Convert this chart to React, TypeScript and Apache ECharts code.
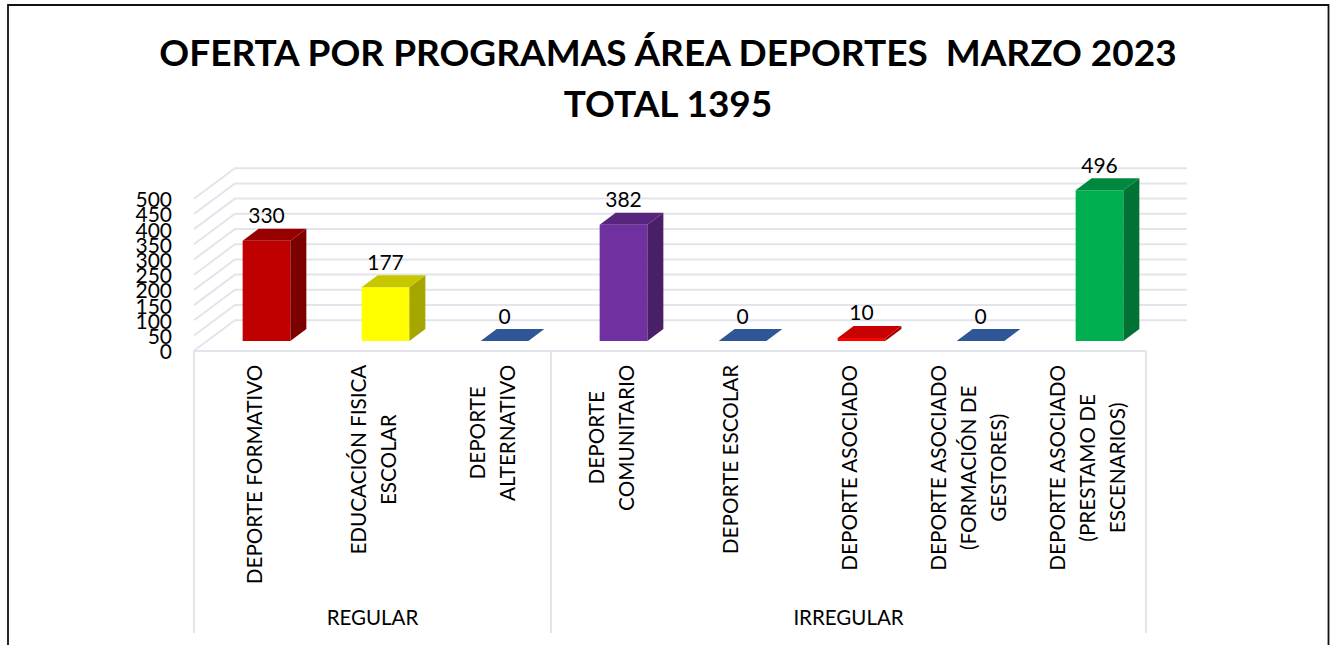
import React, { useEffect, useRef } from "react";
import * as echarts from "echarts";

const categories = [
  "DEPORTE FORMATIVO",
  "EDUCACIÓN FISICA\nESCOLAR",
  "DEPORTE\nALTERNATIVO",
  "DEPORTE\nCOMUNITARIO",
  "DEPORTE ESCOLAR",
  "DEPORTE ASOCIADO",
  "DEPORTE ASOCIADO\n(FORMACIÓN DE\nGESTORES)",
  "DEPORTE ASOCIADO\n(PRESTAMO DE\nESCENARIOS)",
];
const values = [330, 177, 0, 382, 0, 10, 0, 496];
const frontColors = ["#C00000", "#FFFF00", "#3C6EC2", "#7030A0", "#3C6EC2", "#FF0000", "#3C6EC2", "#00B050"];
const groupNames = ["REGULAR", "IRREGULAR"];
const groupStart = [0, 3];
const groupEnd = [2, 7];
const gridTicks = [0, 50, 100, 150, 200, 250, 300, 350, 400, 450, 500];
const titleText = "OFERTA POR PROGRAMAS ÁREA DEPORTES  MARZO 2023\nTOTAL 1395";

const FONT = "Lato, 'Open Sans', sans-serif";
const GRID_COLOR = "#E2E5EC";
const DEPTH = { x: 41, y: -30.5 };
const BAR_OFFSET = { x: 13, y: -9.7 };
const BAR_DEPTH = { x: 16, y: -12 };
const BAR_WIDTH = 47.7;

function shade(hex: string, f: number) {
  const c = echarts.color.parse(hex);
  return `rgb(${Math.round(c[0] * f)},${Math.round(c[1] * f)},${Math.round(c[2] * f)})`;
}

export default function App() {
  const ref = useRef<HTMLDivElement>(null);

  useEffect(() => {
    document.body.style.margin = "0";
    const chart = echarts.init(ref.current!, undefined, { renderer: "svg" });
    chart.setOption({
      animation: false,
      backgroundColor: "#ffffff",
      title: {
        text: titleText,
        left: "center",
        top: 21,
        textStyle: { fontFamily: FONT, fontSize: 37, fontWeight: "bold", color: "#000", lineHeight: 51 },
      },
      graphic: [
        { type: "polyline", silent: true, shape: { points: [[8, 645], [8, 5], [1328.5, 5], [1328.5, 645]] }, style: { fill: "none", stroke: "#111", lineWidth: 1.8 } },
      ],
      grid: { left: 194, right: 190, top: 198.7, height: 152, containLabel: false },
      xAxis: {
        type: "category",
        data: categories,
        axisTick: { show: false },
        axisLine: { show: true, lineStyle: { color: GRID_COLOR, width: 2 } },
        splitLine: { show: false },
        axisLabel: {
          interval: 0,
          rotate: 90,
          margin: 14,
          color: "#000",
          fontFamily: FONT,
          fontSize: 20.7,
          lineHeight: 30,
          formatter: (v: string) => v.split("\n").map((l) => `{c|${l}}`).join("\n"),
          rich: { c: { align: "center", fontFamily: FONT, fontSize: 20.7, lineHeight: 30, color: "#000" } },
        },
      },
      yAxis: {
        type: "value",
        min: 0,
        max: 500,
        interval: 50,
        axisLine: { show: false },
        axisTick: { show: false },
        splitLine: { show: false },
        axisLabel: { show: false },
      },
      series: [
        {
          type: "custom",
          name: "walls",
          silent: true,
          z: 1,
          data: gridTicks.map((t) => [0, t]),
          encode: { x: 0, y: 1 },
          renderItem: (params: any, api: any) => {
            const cs = params.coordSys;
            const y = api.coord([0, api.value(1)])[1];
            return {
              type: "group",
              children: [
                {
                  type: "polyline",
                  shape: {
                    points: [
                      [cs.x, y],
                      [cs.x + DEPTH.x, y + DEPTH.y],
                      [cs.x + cs.width + DEPTH.x, y + DEPTH.y],
                    ],
                  },
                  style: { fill: "none", stroke: GRID_COLOR, lineWidth: 2 },
                },
                {
                  type: "text",
                  style: {
                    text: String(api.value(1)),
                    x: cs.x - 22,
                    y,
                    align: "right",
                    verticalAlign: "middle",
                    fontFamily: FONT,
                    fontSize: 21,
                    fill: "#000",
                  },
                },
              ],
            };
          },
        },
        {
          type: "custom",
          name: "groups",
          silent: true,
          z: 1,
          data: groupNames.map((_, i) => [groupStart[i], groupEnd[i]]),
          encode: { x: [0, 1] },
          renderItem: (params: any, api: any) => {
            const i = params.dataIndex;
            const first = api.coord([api.value(0), 0]);
            const last = api.coord([api.value(1), 0]);
            const half = api.size([1, 0])[0] / 2;
            const xa = first[0] - half;
            const xb = last[0] + half;
            const top = first[1];
            const children: any[] = [
              { type: "line", shape: { x1: xb, y1: top, x2: xb, y2: 633 }, style: { stroke: GRID_COLOR, lineWidth: 2 } },
              {
                type: "text",
                style: { text: groupNames[i], x: (xa + xb) / 2, y: 617, align: "center", verticalAlign: "middle", fontFamily: FONT, fontSize: 20.5, fill: "#000" },
              },
            ];
            if (i === 0) {
              children.push({ type: "line", shape: { x1: xa, y1: top, x2: xa, y2: 633 }, style: { stroke: GRID_COLOR, lineWidth: 2 } });
            }
            return { type: "group", children };
          },
        },
        {
          type: "custom",
          name: "bars",
          silent: true,
          z: 2,
          data: values.map((v, i) => [i, v]),
          encode: { x: 0, y: 1 },
          renderItem: (params: any, api: any) => {
            const i = params.dataIndex;
            const top = api.coord([api.value(0), api.value(1)]);
            const base = api.coord([api.value(0), 0]);
            const x0 = top[0] + BAR_OFFSET.x - BAR_WIDTH / 2;
            const x1 = x0 + BAR_WIDTH;
            const yt = top[1] + BAR_OFFSET.y;
            const yb = base[1] + BAR_OFFSET.y;
            const front = frontColors[i];
            const dx = BAR_DEPTH.x;
            const dy = BAR_DEPTH.y;
            return {
              type: "group",
              children: [
                { type: "rect", shape: { x: x0, y: yt, width: BAR_WIDTH, height: yb - yt }, style: { fill: front } },
                { type: "polygon", shape: { points: [[x1, yt], [x1 + dx, yt + dy], [x1 + dx, yb + dy], [x1, yb]] }, style: { fill: shade(front, 0.65) } },
                { type: "polygon", shape: { points: [[x0, yt], [x0 + dx, yt + dy], [x1 + dx, yt + dy], [x1, yt]] }, style: { fill: shade(front, 0.78) } },
                {
                  type: "text",
                  style: {
                    text: String(values[i]),
                    x: (x0 + x1) / 2,
                    y: yt + dy - 14,
                    align: "center",
                    verticalAlign: "middle",
                    fontFamily: FONT,
                    fontSize: 21,
                    fill: "#000",
                  },
                },
              ],
            };
          },
        },
      ],
    });
    return () => chart.dispose();
  }, []);

  return <div ref={ref} style={{ position: "fixed", left: 0, top: 0, width: 1336, height: 645 }} />;
}
